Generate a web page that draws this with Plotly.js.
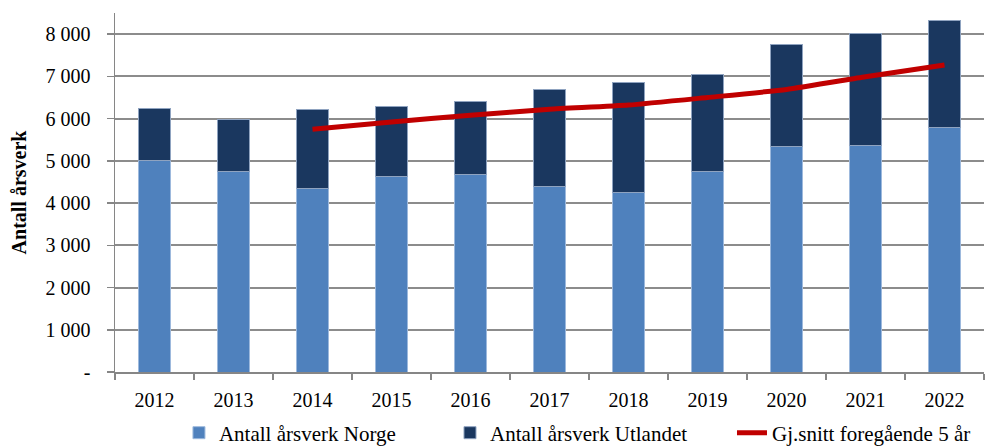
<!DOCTYPE html>
<html>
<head>
<meta charset="utf-8">
<script src="https://cdn.plot.ly/plotly-3.0.1.min.js"></script>
<style>html,body{margin:0;padding:0;background:#fff;}#chart{width:987px;height:448px;}</style>
</head>
<body>
<div id="chart"></div>
<script>
const years = ["2012","2013","2014","2015","2016","2017","2018","2019","2020","2021","2022"];
const norge = [5010, 4740, 4345, 4640, 4670, 4390, 4250, 4740, 5340, 5360, 5790];
const utlandet = [1220, 1250, 1865, 1640, 1730, 2310, 2610, 2310, 2410, 2650, 2530];
const avgYears = ["2014","2015","2016","2017","2018","2019","2020","2021","2022"];
const avg5 = [5750, 5920, 6080, 6220, 6320, 6500, 6690, 6990, 7270];
const yTickVals = [0, 1000, 2000, 3000, 4000, 5000, 6000, 7000, 8000];
const yTickText = ["-", "1 000", "2 000", "3 000", "4 000", "5 000", "6 000", "7 000", "8 000"];
const names = ["Antall årsverk Norge", "Antall årsverk Utlandet", "Gj.snitt foregående 5 år"];

const font = {family: "Liberation Serif, Times New Roman, serif", size: 20, color: "#000"};
const legFont = {family: font.family, size: 21, color: "#000"};

const traces = [
  {type: "bar", x: years, y: norge, name: names[0], legend: "legend",
   marker: {color: "#4F81BD", line: {color: "#9DB9DD", width: 1}}},
  {type: "bar", x: years, y: utlandet, name: names[1], legend: "legend2",
   marker: {color: "#1A375F", line: {color: "#8FA3C0", width: 1}}},
  {type: "scatter", mode: "lines", x: avgYears, y: avg5, name: names[2], legend: "legend3",
   line: {color: "#C00000", width: 5, shape: "spline", smoothing: 0.5}}
];

function leg(x) {
  return {orientation: "h", x: x, xanchor: "left", yref: "paper", y: -0.17, yanchor: "middle",
          font: legFont, itemwidth: 30, bgcolor: "rgba(0,0,0,0)"};
}

const layout = {
  width: 987, height: 448,
  margin: {l: 115, r: 3, t: 13, b: 76, autoexpand: false},
  paper_bgcolor: "#fff", plot_bgcolor: "#fff",
  barmode: "stack", bargap: 0.6,
  font: font,
  showlegend: true,
  legend: leg(0.0736),
  legend2: leg(0.3855),
  legend3: leg(0.71),
  xaxis: {type: "category", showline: true, linecolor: "#868686", linewidth: 1.5,
          ticks: "outside", tickson: "boundaries", ticklen: 6, tickcolor: "#868686", tickwidth: 1.5,
          showgrid: false, tickfont: font, range: [-0.5, 10.5], fixedrange: true,
          ticklabelstandoff: 9},
  yaxis: {range: [0, 8500], tickvals: yTickVals, ticktext: yTickText,
          showline: true, linecolor: "#868686", linewidth: 1.5,
          ticks: "outside", ticklen: 7, tickcolor: "#868686", tickwidth: 1.5,
          showgrid: true, gridcolor: "#8c8c8c", gridwidth: 2, zeroline: false,
          tickfont: font, ticklabelstandoff: 12,
          title: {text: "<b>Antall årsverk</b>", font: {family: font.family, size: 20, color: "#000"}, standoff: 13}}
};

Plotly.newPlot("chart", traces, layout, {displayModeBar: false, staticPlot: true});
</script>
</body>
</html>
